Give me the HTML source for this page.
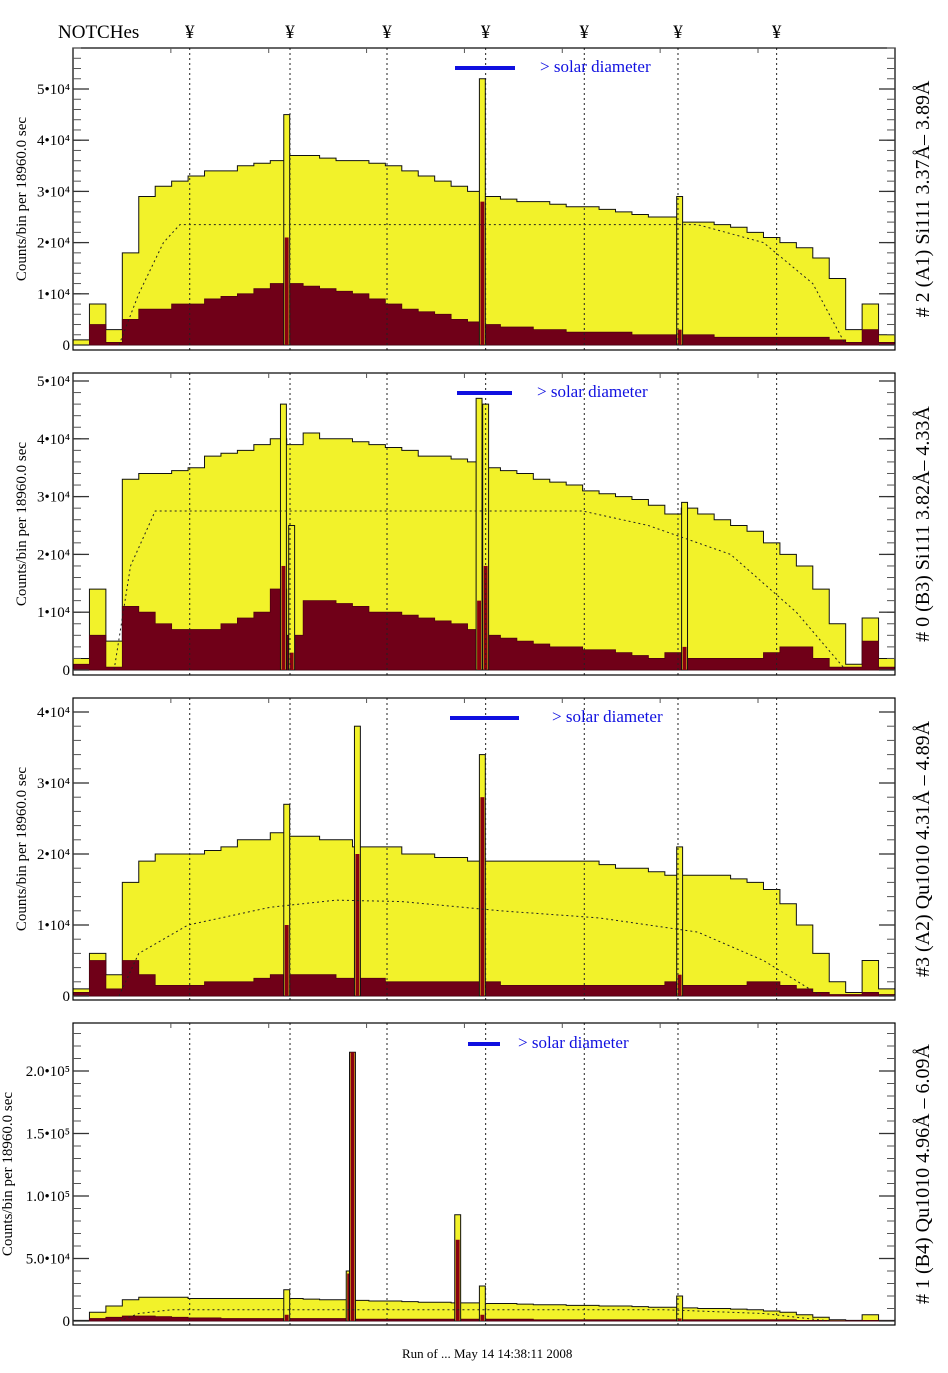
<!DOCTYPE html>
<html><head><meta charset="utf-8">
<style>
body{margin:0;background:#fff;width:948px;height:1373px;overflow:hidden}
svg{display:block}
text{font-family:"Liberation Serif",serif}
</style></head>
<body>
<svg id="chart" width="948" height="1373" viewBox="0 0 948 1373" xmlns="http://www.w3.org/2000/svg"></svg>
<script>
// ---- data (counts in units of 1e3, x in bin units 0..50) ----
const p1Yellow=[1,8,3,18,29,31,32,33,34,34,35,35.5,36,37,37,36.5,36,36,35.5,35,34,33,32,31,30,29,28.5,28,28,27.5,27,27,26.5,26,25.5,25,25,24,24,23.5,23,22,21,20,19,17,13,3,8,2];
const p1Red=[0,4,0.5,5,7,7,8,8,9,9.5,10,11,12,12,11.5,11,10.5,10,9,8,7,6.5,6,5,4.5,4,3.5,3.5,3,3,2.5,2.5,2.5,2.5,2,2,2,2,2,1.5,1.5,1.5,1.5,1.5,1.5,1.5,1,0.5,3,0.5];
const p1SpikeX=[13.0,24.9,36.9];
const p1SpikeY=[45,52,29];
const p1SpikeRed=[21,28,3];
const p1EffX=[2.8,4,5.5,6.5,38,42,45,47];
const p1EffY=[0,10,20,23.5,23.5,20,12,0];

const p2Yellow=[2,14,5,33,34,34,34.5,35,37,37.5,38,39,40,39,41,40,40,39.5,39,38.5,38,37,37,36.5,36,35,34.5,34,33,32.5,32,31,30.5,30,29.5,28.5,27,28,27,26,25,24,22,20,18,14,8,1,9,2];
const p2Red=[1,6,0.5,11,10,8,7,7,7,8,9,10,14,6,12,12,11.5,11,10,10,9.5,9,8.5,8,7,6,5.5,5,4.5,4,4,3.5,3.5,3,2.5,2,3,2,2,2,2,2,3,4,4,2,0.5,0.5,5,0.5];
const p2SpikeX=[12.8,13.3,24.7,25.1,37.2];
const p2SpikeY=[46,25,47,46,29];
const p2SpikeRed=[18,3,12,18,4];
const p2EffX=[2.5,3.5,5,31,35,40,44,47];
const p2EffY=[0,18,27.5,27.5,25,20,10,0];

const p3Yellow=[1,6,3,16,19,20,20,20,20.5,21,22,22,23,22.5,22.5,22,22,21,21,21,20,20,19.5,19.5,19,19,19,19,19,19,19,19,18.5,18,18,17.5,17,17,17,17,16.5,16,15,13,10,6,2,0.5,5,1];
const p3Red=[0.5,5,1,5,3,1.5,1.5,1.5,2,2,2,2.5,3,3,3,3,2.5,2.5,2.5,2,2,2,2,2,2,2,1.5,1.5,1.5,1.5,1.5,1.5,1.5,1.5,1.5,1.5,2,1.5,1.5,1.5,1.5,2,2,1.5,1,0.5,0.2,0.2,0.5,0.2];
const p3SpikeX=[13.0,17.3,24.9,36.9];
const p3SpikeY=[27,38,34,21];
const p3SpikeRed=[10,20,28,3];
const p3EffX=[2.8,4,7,12,16,20,26,32,38,42,45.5];
const p3EffY=[0,6,10,12.5,13.5,13.3,12,11,9,5,0];

const p4Yellow=[0.5,7,12,17,19,19,19,18,18,18,18,18,18,18,17.5,17,17,16.5,16,16,15.5,15,15,14.5,14.5,14,14,13.5,13,13,12.5,12.5,12,12,11.5,11,11,10.5,10,10,9.5,9,8,7,5,3,1,0.5,5,0.5];
const p4Red=[0,2,3,4,4,3.5,3,2.5,2.5,2,2,2,2,2,2,2,2,1.5,1.5,1.5,1.5,1.5,1.5,1.5,1.5,1.5,1.5,1.5,1,1,1,1,1,1,1,1,1,1,1,1,1,1,1,1,0.5,0.5,0.2,0.2,0.5,0.2];
const p4SpikeX=[13.0,16.8,17.0,23.4,24.9,36.9];
const p4SpikeY=[25,40,215,85,28,20];
const p4SpikeRed=[5,38,215,65,5,2];
const p4EffX=[2.8,4,6,36,42,46];
const p4EffY=[0,6,9,9,6,0];

const notchX=[7.1,13.2,19.1,25.1,31.1,36.8,42.8];
const p1Ticks=[0,10,20,30,40,50];
const p1TickLabels=["0","1•10⁴","2•10⁴","3•10⁴","4•10⁴","5•10⁴"];
const p3Ticks=[0,10,20,30,40];
const p3TickLabels=["0","1•10⁴","2•10⁴","3•10⁴","4•10⁴"];
const p4Ticks=[0,50,100,150,200];
const p4TickLabels=["0","5.0•10⁴","1.0•10⁵","1.5•10⁵","2.0•10⁵"];
const titles=["# 2 (A1) Si111  3.37Å– 3.89Å","# 0 (B3) Si111  3.82Å– 4.33Å","#3 (A2) Qu1010  4.31Å – 4.89Å","# 1 (B4) Qu1010 4.96Å – 6.09Å"];

// ---- layout ----
const NS="http://www.w3.org/2000/svg";
const svg=document.getElementById('chart');
const X0=73,X1=895,BINW=(X1-X0)/50;
const xs=b=>X0+b*BINW;
function mk(tag,attrs,parent){const e=document.createElementNS(NS,tag);for(const k in attrs)e.setAttribute(k,attrs[k]);(parent||svg).appendChild(e);return e;}

const panels=[
 {top:48,bot:350,zero:345,sc:5.12,Y:p1Yellow,R:p1Red,SX:p1SpikeX,SY:p1SpikeY,SR:p1SpikeRed,EX:p1EffX,EY:p1EffY,T:p1Ticks,TL:p1TickLabels,minor:2,bar:[455,515],barY:68,txt:540,tx:26},
 {top:373,bot:675,zero:670,sc:5.78,Y:p2Yellow,R:p2Red,SX:p2SpikeX,SY:p2SpikeY,SR:p2SpikeRed,EX:p2EffX,EY:p2EffY,T:p1Ticks,TL:p1TickLabels,minor:2,bar:[457,512],barY:393,txt:537,tx:26},
 {top:698,bot:1000,zero:996,sc:7.1,Y:p3Yellow,R:p3Red,SX:p3SpikeX,SY:p3SpikeY,SR:p3SpikeRed,EX:p3EffX,EY:p3EffY,T:p3Ticks,TL:p3TickLabels,minor:2,bar:[450,519],barY:718,txt:552,tx:26},
 {top:1023,bot:1325,zero:1321,sc:1.25,Y:p4Yellow,R:p4Red,SX:p4SpikeX,SY:p4SpikeY,SR:p4SpikeRed,EX:p4EffX,EY:p4EffY,T:p4Ticks,TL:p4TickLabels,minor:10,bar:[468,500],barY:1044,txt:518,tx:12}
];

let t=mk('text',{x:58,y:38,'font-size':19});t.textContent='NOTCHes';


notchX.forEach(n=>{const s=mk('text',{x:xs(n),y:38,'font-size':19,'text-anchor':'middle'});s.textContent='¥';
 
 });

panels.forEach((p,pi)=>{
 const g=mk('g',{});
 
 
 const ys=v=>p.zero-v*p.sc;
 const clipTop=p.top+1;
 const cl=v=>Math.max(clipTop,ys(v));
 function stepPath(arr){let d='M'+X0+','+p.zero;arr.forEach((v,i)=>{d+=' L'+xs(i)+','+cl(v)+' L'+xs(i+1)+','+cl(v);});d+=' L'+X1+','+p.zero+' Z';return d;}
 const yl=mk('path',{d:stepPath(p.Y),fill:'#f2f22a',stroke:'#111',"stroke-width":1},g);
 
 
 const rd=mk('path',{d:stepPath(p.R),fill:'#700018',stroke:'#500010',"stroke-width":0.8},g);
 
 
 p.SX.forEach((sx,i)=>{
  const w=0.36*BINW;
  const a=mk('rect',{x:xs(sx)-w/2,y:cl(p.SY[i]),width:w,height:p.zero-cl(p.SY[i]),fill:'#f2f22a',stroke:'#111','stroke-width':1},g);
  
  
  const b=mk('rect',{x:xs(sx)-w/2+1,y:cl(p.SR[i]),width:w-2,height:p.zero-cl(p.SR[i]),fill:'#8a0010'},g);
  
  
 });
 let d='';p.EX.forEach((x,i)=>{d+=(i?' L':'M')+xs(x)+','+ys(p.EY[i]);});
 const ef=mk('path',{d:d,fill:'none',stroke:'#222','stroke-width':1,'stroke-dasharray':'2,3'},g);
 
 
 notchX.forEach(n=>{const l=mk('line',{x1:xs(n),x2:xs(n),y1:p.top,y2:p.bot,stroke:'#222','stroke-width':1,'stroke-dasharray':'2,3'},g);
  
  });
 const fr=mk('rect',{x:X0,y:p.top,width:X1-X0,height:p.bot-p.top,fill:'none',stroke:'#000','stroke-width':1.2},g);
 
 
 const maxV=(p.zero-p.top)/p.sc;
 for(let v=0;v<=maxV;v+=p.minor){const y=ys(v);mk('line',{x1:X0,x2:X0+8,y1:y,y2:y,stroke:'#555'},g);mk('line',{x1:X1-8,x2:X1,y1:y,y2:y,stroke:'#555'},g);}
 p.T.forEach((v,i)=>{const y=ys(v);mk('line',{x1:X0,x2:X0+16,y1:y,y2:y,stroke:'#333','stroke-width':1.3},g);mk('line',{x1:X1-16,x2:X1,y1:y,y2:y,stroke:'#333','stroke-width':1.3},g);
  const tl=mk('text',{x:70,y:y+5,'font-size':15,'text-anchor':'end'},g);tl.textContent=p.TL[i];
  
  });
 for(let k=1;k<8;k++){const x=X0+k*(X1-X0)/8.4;mk('line',{x1:x,x2:x,y1:p.top,y2:p.top+5,stroke:'#555'},g);}
 const cy=(p.top+p.bot)/2;
 const yt=mk('text',{x:0,y:0,'font-size':15,'text-anchor':'middle',transform:'translate('+p.tx+','+cy+') rotate(-90)'},g);
 yt.textContent='Counts/bin per  18960.0 sec';
 
 
 const rt=mk('text',{x:0,y:0,'font-size':20,'text-anchor':'middle',transform:'translate(929,'+cy+') rotate(-90)'},g);
 rt.textContent=titles[pi];
 
 
 const sb=mk('line',{x1:p.bar[0],x2:p.bar[1],y1:p.barY,y2:p.barY,stroke:'#1010e0','stroke-width':4},g);
 
 
 const st=mk('text',{x:p.txt,y:p.barY+4,'font-size':17,fill:'#1010e0'},g);
 st.textContent='> solar diameter';
 
 
});
const ft=mk('text',{x:402,y:1358,'font-size':13});ft.textContent='Run of ...   May 14 14:38:11 2008';


</script>
</body></html>
